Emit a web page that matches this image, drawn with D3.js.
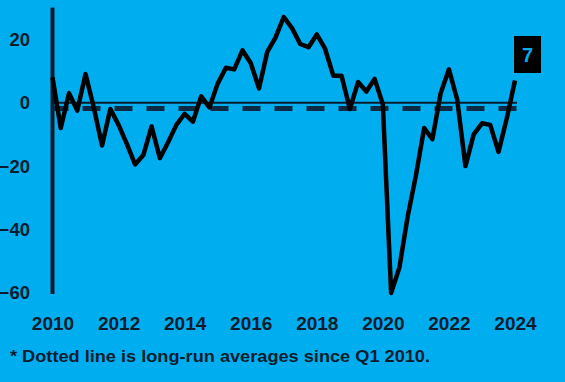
<!DOCTYPE html>
<html>
<head>
<meta charset="utf-8">
<script src="https://cdn.jsdelivr.net/npm/d3@7"></script>
<style>
  html, body { margin: 0; padding: 0; background: #00aeef; }
  svg { display: block; }
  text { font-family: "Liberation Sans", Arial, sans-serif; font-weight: bold; }
</style>
</head>
<body>
<svg id="chart" width="565" height="382"></svg>
<script>
// ---- Data ----
const quarters = [];
for (let y = 2010; y <= 2024; y++) {
  for (let q = 1; q <= 4; q++) {
    if (y === 2024 && q > 1) break;
    quarters.push(y + "Q" + q);
  }
}
const values = [
  8, -8, 3, -2.5, 9, -1.5, -13.5, -2, -7, -13,
  -19.5, -16.5, -7.5, -17.5, -12.5, -7, -3.5, -6, 2, -1.5,
  6, 11, 10.5, 16.5, 12.5, 4.5, 16, 20.5, 27, 23.5,
  18.5, 17.5, 21.5, 17, 8.5, 8.5, -2, 6.5, 3.5, 7.5,
  -0.5, -60, -52, -36, -23, -8, -11.5, 3, 10.5, 1,
  -20, -10, -6.5, -7, -15.5, -5, 7
];
const longRunAverage = -1.8;
const yTicks = [20, 0, -20, -40, -60];
const xTickYears = [2010, 2012, 2014, 2016, 2018, 2020, 2022, 2024];
const lastLabel = "7";
const footnote = "* Dotted line is long-run averages since Q1 2010.";

// ---- Layout ----
const svg = d3.select("#chart");
const bg = "#00aeef";
const ink = "#0b1c2e";

svg.append("rect").attr("width", 565).attr("height", 382).attr("fill", bg);

const toYear = s => +s.slice(0, 4) + (+s.slice(5) - 1) / 4;
const x = d3.scaleLinear().domain([2010, 2024]).range([52.5, 515]);
const y = d3.scaleLinear().domain([-60, 30]).range([293, 7.5]);

const data = quarters.map((q, i) => ({ t: toYear(q), v: values[i] }));

// Y axis (line + labels)
const yAxis = d3.axisLeft(y).tickValues(yTicks).tickSize(0).tickPadding(0);
const yg = svg.append("g").attr("transform", "translate(30,0)").call(yAxis);
yg.select(".domain").remove();
yg.selectAll("text")
  .attr("fill", ink)
  .attr("font-size", 18.5)
  .attr("font-family", "Liberation Sans, Arial, sans-serif")
  .attr("font-weight", "bold")
  .attr("x", 0);

svg.append("line")
  .attr("x1", x(2010)).attr("x2", x(2010))
  .attr("y1", y(30)).attr("y2", y(-60) + 1)
  .attr("stroke", ink).attr("stroke-width", 4);

// X axis labels
const xAxis = d3.axisBottom(x).tickValues(xTickYears).tickFormat(d3.format("d")).tickSize(0).tickPadding(0);
const xg = svg.append("g").attr("transform", "translate(0,316)").call(xAxis);
xg.select(".domain").remove();
xg.selectAll("text")
  .attr("fill", ink)
  .attr("font-size", 19)
  .attr("font-family", "Liberation Sans, Arial, sans-serif")
  .attr("font-weight", "bold");

// Zero line
svg.append("line")
  .attr("x1", x(2010)).attr("x2", x(2024) + 2)
  .attr("y1", y(0)).attr("y2", y(0))
  .attr("stroke", ink).attr("stroke-width", 2);

// Long-run average dashed line
svg.append("line")
  .attr("x1", x(2010)).attr("x2", x(2024) + 2)
  .attr("y1", y(longRunAverage)).attr("y2", y(longRunAverage))
  .attr("stroke", "#0d2a45").attr("stroke-width", 5)
  .attr("stroke-dasharray", "18,14")
  .attr("stroke-dashoffset", 2);

// Main line
const line = d3.line().x(d => x(d.t)).y(d => y(d.v));
svg.append("path")
  .datum(data)
  .attr("d", line)
  .attr("fill", "none")
  .attr("stroke", "#000")
  .attr("stroke-width", 4.5)
  .attr("stroke-linejoin", "round");

// Last value label
const last = data[data.length - 1];
svg.append("rect")
  .attr("x", x(last.t) - 1).attr("y", 36)
  .attr("width", 27).attr("height", 37)
  .attr("fill", "#000");
svg.append("text")
  .attr("x", x(last.t) + 12.5).attr("y", 62)
  .attr("text-anchor", "middle")
  .attr("fill", bg)
  .attr("font-size", 20)
  .text(lastLabel);

// Footnote
svg.append("text")
  .attr("x", 10).attr("y", 362)
  .attr("fill", ink)
  .attr("font-size", 17)
  .attr("textLength", 420)
  .attr("lengthAdjust", "spacingAndGlyphs")
  .text(footnote);
</script>
</body>
</html>
